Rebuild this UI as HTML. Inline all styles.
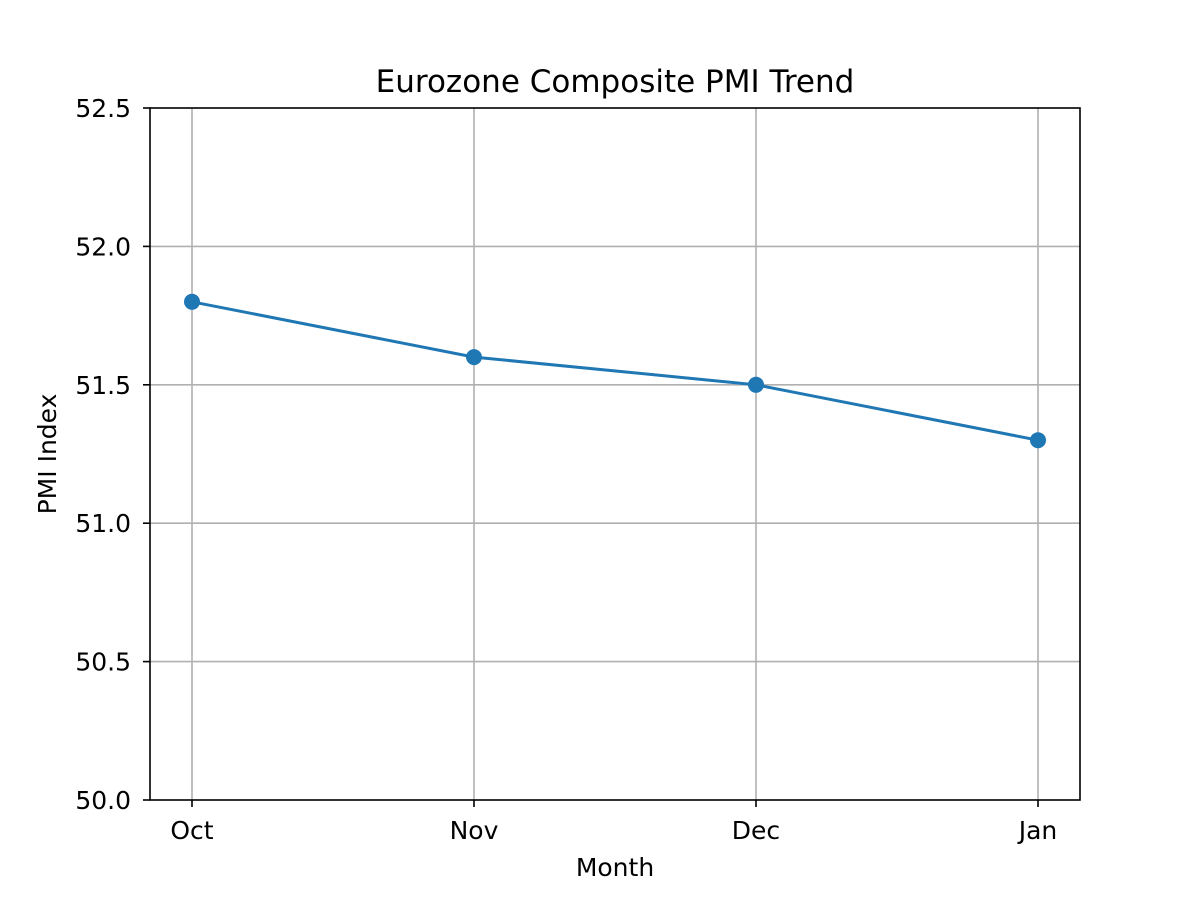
<!DOCTYPE html>
<html><head><meta charset="utf-8"><style>
html,body{margin:0;padding:0;background:#fff;}
svg{display:block;font-family:"DejaVu Sans","Liberation Sans",sans-serif;}
</style></head><body>
<svg width="1200" height="900" viewBox="0 0 1200 900" xmlns="http://www.w3.org/2000/svg">
<rect width="1200" height="900" fill="#fff"/>
<g stroke="#b0b0b0" stroke-width="1.6">
<line x1="192" y1="108" x2="192" y2="800"/>
<line x1="474" y1="108" x2="474" y2="800"/>
<line x1="756" y1="108" x2="756" y2="800"/>
<line x1="1038" y1="108" x2="1038" y2="800"/>
<line x1="150" y1="661.6" x2="1080" y2="661.6"/>
<line x1="150" y1="523.2" x2="1080" y2="523.2"/>
<line x1="150" y1="384.8" x2="1080" y2="384.8"/>
<line x1="150" y1="246.4" x2="1080" y2="246.4"/>
</g>
<polyline points="192,301.8 474,357.1 756,384.8 1038,440.2" fill="none" stroke="#1f77b4" stroke-width="3"/>
<g fill="#1f77b4">
<circle cx="192" cy="301.8" r="8"/><circle cx="474" cy="357.1" r="8"/><circle cx="756" cy="384.8" r="8"/><circle cx="1038" cy="440.2" r="8"/>
</g>
<rect x="150" y="108" width="930" height="692" fill="none" stroke="#000" stroke-width="1.6"/>
<g stroke="#000" stroke-width="1.6">
<line x1="192" y1="800" x2="192" y2="807"/><line x1="474" y1="800" x2="474" y2="807"/>
<line x1="756" y1="800" x2="756" y2="807"/><line x1="1038" y1="800" x2="1038" y2="807"/>
<line x1="143" y1="800" x2="150" y2="800"/><line x1="143" y1="661.6" x2="150" y2="661.6"/>
<line x1="143" y1="523.2" x2="150" y2="523.2"/><line x1="143" y1="384.8" x2="150" y2="384.8"/>
<line x1="143" y1="246.4" x2="150" y2="246.4"/><line x1="143" y1="108" x2="150" y2="108"/>
</g>
<g font-size="25" fill="#000" text-anchor="middle">
<text x="192" y="839">Oct</text><text x="474" y="839">Nov</text>
<text x="756" y="839">Dec</text><text x="1038" y="839">Jan</text>
<text x="615" y="876">Month</text>
</g>
<g font-size="25" fill="#000" text-anchor="end">
<text x="131" y="809">50.0</text><text x="131" y="670.6">50.5</text>
<text x="131" y="532.2">51.0</text><text x="131" y="393.8">51.5</text>
<text x="131" y="255.4">52.0</text><text x="131" y="117">52.5</text>
</g>
<text x="56" y="454" font-size="25" text-anchor="middle" transform="rotate(-90 56 454)">PMI Index</text>
<text x="615" y="92" font-size="31" text-anchor="middle">Eurozone Composite PMI Trend</text>
</svg>
</body></html>
